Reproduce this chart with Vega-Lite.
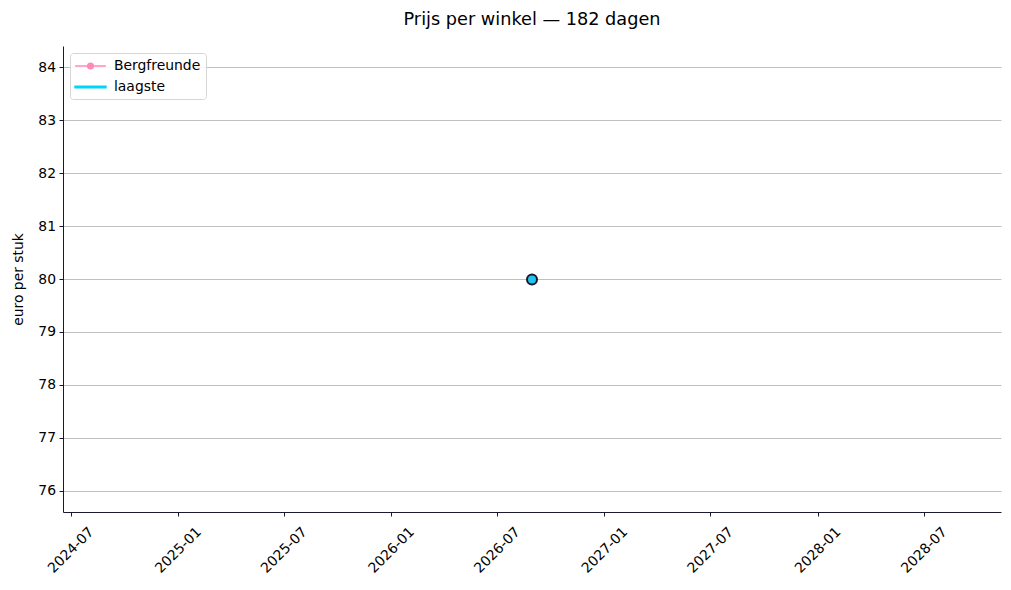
{
  "$schema": "https://vega.github.io/schema/vega-lite/v6.json",
  "width": 938,
  "height": 466,
  "autosize": "none",
  "padding": {"left": 63, "top": 46, "right": 10, "bottom": 78},
  "background": "white",
  "title": {"text": "Prijs per winkel — 182 dagen", "anchor": "middle", "offset": 17, "fontSize": 17.7, "font": "DejaVu Sans", "fontWeight": "normal", "color": "#000000"},
  "config": {
    "view": {"stroke": null},
    "axis": {"labelFont": "DejaVu Sans", "labelFontSize": 13.9, "labelColor": "#000000", "titleFont": "DejaVu Sans", "titleFontSize": 13.9, "titleFontWeight": "normal", "titleColor": "#000000", "domainColor": "#1a1a2e", "tickColor": "#1a1a2e", "domainWidth": 1, "tickWidth": 1, "tickSize": 4},
    "legend": {"labelFont": "DejaVu Sans", "labelFontSize": 13.9, "labelColor": "#000000"}
  },
  "data": {"values": [
    {"date": "2026-08-30", "price": 79.99, "series": "Bergfreunde"},
    {"date": "2026-08-30", "price": 79.99, "series": "laagste"}
  ]},
  "encoding": {
    "x": {"field": "date", "type": "temporal",
      "scale": {"type": "utc", "domain": [{"year": 2024, "month": 6, "date": 18, "utc": true}, {"year": 2028, "month": 11, "date": 10, "utc": true}]},
      "axis": {"title": null, "grid": false, "labelExpr": "utcFormat(datum.value, '%Y-%m')", "labelAngle": -45, "labelAlign": "center", "labelBaseline": "middle", "labelPadding": 34,
        "values": [
          {"year": 2024, "month": 7, "date": 1, "utc": true},
          {"year": 2025, "month": 1, "date": 1, "utc": true},
          {"year": 2025, "month": 7, "date": 1, "utc": true},
          {"year": 2026, "month": 1, "date": 1, "utc": true},
          {"year": 2026, "month": 7, "date": 1, "utc": true},
          {"year": 2027, "month": 1, "date": 1, "utc": true},
          {"year": 2027, "month": 7, "date": 1, "utc": true},
          {"year": 2028, "month": 1, "date": 1, "utc": true},
          {"year": 2028, "month": 7, "date": 1, "utc": true}
        ]}},
    "y": {"field": "price", "type": "quantitative",
      "scale": {"domain": [75.6, 84.4], "nice": false, "zero": false},
      "axis": {"title": "euro per stuk", "values": [76, 77, 78, 79, 80, 81, 82, 83, 84], "grid": true, "gridColor": "#b0b0b0", "gridWidth": 0.8, "labelPadding": 3.5, "titleX": -45, "titleY": 233, "titleAngle": -90, "titleAlign": "center", "titleBaseline": "middle"}}
  },
  "layer": [
    {
      "mark": {"type": "point", "filled": false, "opacity": 0},
      "encoding": {
        "color": {"field": "series", "type": "nominal", "scale": {"domain": ["Bergfreunde", "laagste"], "range": ["#ff8ab8", "#00d4ff"]},
          "legend": {"title": null, "orient": "top-left", "offset": 7, "symbolSize": 196, "symbolOffset": 7.5, "labelOffset": 15.5, "padding": 5, "rowPadding": 6, "symbolOpacity": 1, "symbolStrokeWidth": 1.5, "strokeColor": "#d6d6d6", "fillColor": "rgba(255,255,255,0.85)", "cornerRadius": 3}},
        "shape": {"field": "series", "type": "nominal", "scale": {"domain": ["Bergfreunde", "laagste"], "range": [
          "M-2.2,0H2.2M-0.4,0A0.4,0.4 0 1,0 0.4,0A0.4,0.4 0 1,0 -0.4,0ZM-0.27,0A0.27,0.27 0 1,0 0.27,0A0.27,0.27 0 1,0 -0.27,0ZM-0.14,0A0.14,0.14 0 1,0 0.14,0A0.14,0.14 0 1,0 -0.14,0ZM-0.04,0A0.04,0.04 0 1,0 0.04,0A0.04,0.04 0 1,0 -0.04,0Z",
          "M-2.2,-0.11H2.2V0.11H-2.2ZM-2.2,0H2.2"]}}
      }
    },
    {
      "transform": [{"filter": "datum.series === 'laagste'"}],
      "mark": {"type": "circle", "size": 100, "fill": "#22c4f0", "stroke": "#1a1a2e", "strokeWidth": 2, "opacity": 1}
    }
  ]
}
